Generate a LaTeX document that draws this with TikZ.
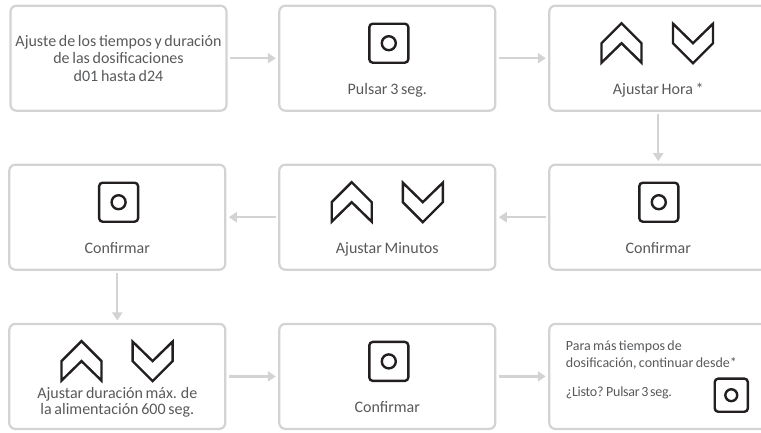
\documentclass[tikz,border=0pt]{standalone}
\usepackage{fontspec}
\setmainfont[WordSpace=0.75]{Carlito}
\newfontfamily\apretada[WordSpace=0.6,LetterSpace=-2]{Carlito}
\usetikzlibrary{positioning,calc,arrows.meta}
\definecolor{borde}{HTML}{D1D3D4}
\definecolor{textogris}{HTML}{58595B}
\definecolor{icono}{HTML}{231F20}
\tikzset{
	paso/.style={draw=borde,line width=2.2pt,rounded corners=6pt,minimum width=216pt,minimum height=105pt,outer sep=0pt,inner sep=0pt},
	pasoder/.style={paso,minimum width=218pt},
	flecha/.style={draw=borde,line width=2.2pt,-{Triangle[length=8pt,width=10pt]},shorten <=3.5pt,shorten >=3.5pt},
	texto/.style={font=\fontsize{16}{17.7}\selectfont,text=textogris,inner sep=0pt,align=center},
	textochico/.style={font=\fontsize{14}{17.6}\selectfont,text=textogris,inner sep=0pt,align=left},
	pics/boton/.style={code={
		\draw[icono,line width=2.4pt,rounded corners=3.5pt] (-19.5,-19.5) rectangle (19.5,19.5);
		\draw[icono,line width=2.4pt] (0,0) circle (7);
	}},
	pics/subir/.style={code={
		\draw[icono,line width=2.4pt,miter limit=10] (0,20) -- (20,0) -- (20,-19.5) -- (0,0) -- (-20,-19.5) -- (-20,0) -- cycle;
	}},
	pics/bajar/.style={code={
		\draw[icono,line width=2.4pt,miter limit=10] (0,-20) -- (20,0) -- (20,19.5) -- (0,0) -- (-20,19.5) -- (-20,0) -- cycle;
	}},
}
\begin{document}
\begin{tikzpicture}[x=1pt,y=1pt]
	\useasboundingbox (0,0) rectangle (761,-432);
	\clip (0,0) rectangle (761,-432);
	%
	\node[paso,texto] at (118.5,-58.2) (ajuste) {Ajuste de los tiempos y duración\\de las dosificaciones\\d01 hasta d24};
	\node[paso,right=52.8pt of ajuste] (pulsar) {};
	\node[pasoder,right=54pt of pulsar] (hora) {};
	\node[pasoder,below=54pt of hora] (confhora) {};
	\node[paso,left=54pt of confhora] (minutos) {};
	\node[paso,left=54pt of minutos] (confmin) {};
	\node[paso,below=54.2pt of confmin] (duracion) {};
	\node[paso,right=54pt of duracion] (confdur) {};
	\node[pasoder,right=54pt of confdur] (listo) {};
	%
	\node[texto,anchor=base] at ($(pulsar)+(0,-36.5)$) (tpulsar) {Pulsar 3 seg.};
	\node[texto,anchor=base] at ($(hora)+(0,-36.5)$) (thora) {Ajustar Hora *};
	\node[texto,anchor=base] at ($(confhora)+(0,-36.5)$) (tconfhora) {Confirmar};
	\node[texto,anchor=base] at ($(minutos)+(0,-36.5)$) (tminutos) {Ajustar Minutos};
	\node[texto,anchor=base] at ($(confmin)+(0,-36.5)$) (tconfmin) {Confirmar};
	\node[texto,anchor=base] at ($(confdur)+(0,-36.5)$) (tconfdur) {Confirmar};
	\node[texto,font=\fontsize{16}{16.3}\selectfont] at ($(duracion)+(0,-26)$) (tduracion) {Ajustar duración máx. de\\la alimentación 600 seg.};
	\node[textochico,anchor=north west] at ($(listo)+(-92.6,36)$) (tmas) {Para más tiempos de\\dosificación, continuar desde*};
	\node[textochico,anchor=base west,font=\fontsize{14}{17.6}\apretada] at ($(listo)+(-92.6,-19.7)$) (tlisto) {¿Listo? Pulsar 3 seg.};
	%
	\pic at ($(pulsar)+(1.5,15)$) {boton};
	\pic at ($(hora)+(-36.8,15)$) {subir};
	\pic at ($(hora)+(34.7,15)$) {bajar};
	\pic at ($(confhora)+(0.5,15)$) {boton};
	\pic at ($(minutos)+(-35.6,15)$) {subir};
	\pic at ($(minutos)+(35.5,15)$) {bajar};
	\pic at ($(confmin)+(1.3,15)$) {boton};
	\pic at ($(duracion)+(-35.8,15.3)$) {subir};
	\pic at ($(duracion)+(35.3,15.3)$) {bajar};
	\pic at ($(confdur)+(1.5,15)$) {boton};
	\pic[scale=0.85,transform shape] at ($(listo)+(73,-18.8)$) {boton};
	%
	\draw[flecha] (ajuste) -- (pulsar);
	\draw[flecha] (pulsar) -- (hora);
	\draw[flecha] (hora) -- (confhora);
	\draw[flecha] (confhora) -- (minutos);
	\draw[flecha] (minutos) -- (confmin);
	\draw[flecha] (confmin) -- (duracion);
	\draw[flecha] (duracion) -- (confdur);
	\draw[flecha] (confdur) -- (listo);
\end{tikzpicture}
\end{document}
